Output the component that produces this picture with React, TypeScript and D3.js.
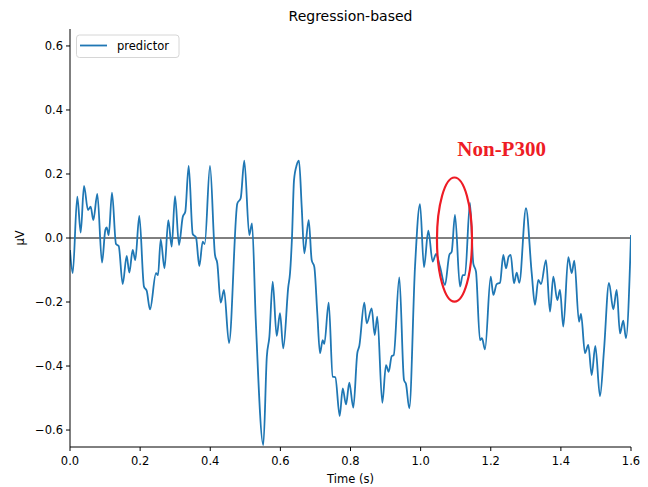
import React from "react";
import * as d3 from "d3";

// Regression-based ERP estimate for the "predictor" term (seconds, microvolts)
const times: number[] = [
  0.0, 0.0077, 0.0208, 0.0305, 0.0399, 0.0513, 0.059, 0.0665, 0.0779, 0.0913,
  0.1007, 0.1047, 0.1104, 0.1198, 0.1312, 0.1389, 0.1503, 0.1617, 0.1691, 0.1788,
  0.1862, 0.1976, 0.211, 0.2188, 0.2282, 0.2453, 0.251, 0.2587, 0.2695, 0.2804,
  0.29, 0.2995, 0.3109, 0.3214, 0.3288, 0.3385, 0.35, 0.3594, 0.3688, 0.3785,
  0.3842, 0.3993, 0.4135, 0.4201, 0.4298, 0.4392, 0.4535, 0.4772, 0.4868, 0.4971,
  0.5114, 0.5191, 0.5298, 0.5513, 0.5613, 0.5687, 0.5781, 0.5895, 0.5989, 0.6083,
  0.6226, 0.6275, 0.6332, 0.6389, 0.6466, 0.6531, 0.6608, 0.6682, 0.6808, 0.6893,
  0.6968, 0.7053, 0.713, 0.7207, 0.7253, 0.7378, 0.7492, 0.7567, 0.7692, 0.7778,
  0.7872, 0.7966, 0.808, 0.8194, 0.8251, 0.8394, 0.8462, 0.8605, 0.869, 0.8764,
  0.8907, 0.9012, 0.909, 0.9175, 0.9232, 0.9392, 0.9526, 0.9583, 0.9677, 0.984,
  0.9982, 1.0096, 1.0219, 1.0344, 1.0439, 1.0553, 1.0695, 1.0818, 1.0886, 1.098,
  1.1123, 1.12, 1.1266, 1.1408, 1.1502, 1.1579, 1.1693, 1.175, 1.1836, 1.1999,
  1.2073, 1.217, 1.2264, 1.2358, 1.2435, 1.2512, 1.2569, 1.2663, 1.274, 1.2814,
  1.3005, 1.3168, 1.3262, 1.3356, 1.3433, 1.3576, 1.369, 1.3784, 1.3898, 1.3975,
  1.4069, 1.4212, 1.4309, 1.4383, 1.4517, 1.4574, 1.4688, 1.4782, 1.4879, 1.4982,
  1.5116, 1.523, 1.5372, 1.5495, 1.5592, 1.5686, 1.578, 1.5857, 1.6,
];

const predictor: number[] = [
  -0.0375, -0.11, 0.129, 0.017, 0.1625, 0.0875, 0.098, 0.056, 0.1375, -0.077,
  0.025, 0.033, 0.009, 0.1416, -0.019, -0.025, -0.144, -0.056, -0.108, -0.0375,
  -0.069, 0.069, -0.152, -0.165, -0.223, -0.11, -0.116, -0.004, -0.095, 0.056,
  -0.027, 0.131, -0.022, 0.065, 0.082, 0.225, 0.0125, 0.002, -0.0875, -0.0116,
  -0.019, 0.225, -0.053, -0.079, -0.202, -0.1625, -0.328, 0.108, 0.124, 0.2416,
  0.009, 0.046, -0.256, -0.647, -0.371, -0.308, -0.1366, -0.306, -0.235, -0.345,
  -0.152, -0.11, 0.004, 0.181, 0.228, 0.2416, 0.098, -0.048, 0.056, -0.069,
  -0.09, -0.235, -0.36, -0.319, -0.331, -0.202, -0.433, -0.435, -0.556, -0.47,
  -0.52, -0.452, -0.53, -0.36, -0.3375, -0.202, -0.2666, -0.22, -0.303, -0.246,
  -0.515, -0.397, -0.418, -0.369, -0.366, -0.123, -0.444, -0.456, -0.532, -0.09,
  0.106, -0.0916, 0.023, -0.074, -0.05, -0.09, -0.147, -0.053, -0.043, 0.072,
  -0.152, -0.116, -0.116, 0.11, -0.079, -0.105, -0.319, -0.313, -0.348, -0.121,
  -0.178, -0.144, -0.14, -0.053, -0.095, -0.058, -0.053, -0.1416, -0.108, -0.14,
  0.093, -0.11, -0.209, -0.131, -0.144, -0.069, -0.23, -0.121, -0.194, -0.1625,
  -0.277, -0.06, -0.11, -0.071, -0.2616, -0.2375, -0.36, -0.334, -0.428, -0.3375,
  -0.494, -0.35, -0.14, -0.223, -0.1625, -0.298, -0.258, -0.313, 0.009,
];

const xTicks: number[] = [0, 0.2, 0.4, 0.6, 0.8, 1.0, 1.2, 1.4, 1.6];
const yTicks: number[] = [-0.6, -0.4, -0.2, 0.0, 0.2, 0.4, 0.6];

// Highlighted component: ellipse centre / radii in data units, and its label
const markCenter: [number, number] = [1.0966, -0.005];
const markRadii: [number, number] = [0.05, 0.194];
const markLabel = "Non-P300";
const markLabelPos: [number, number] = [1.231, 0.255];

const W = 648;
const H = 487;
const left = 70;
const right = 631;
const top = 29;
const bottom = 447;

const FONT = "'DejaVu Sans', sans-serif";
const BLUE = "#1f77b4";

export default function App() {
  const x = d3.scaleLinear().domain([0, 1.6]).range([left, right]);
  const y = d3.scaleLinear().domain([-0.653, 0.653]).range([bottom, top]);

  const pts: [number, number][] = times.map((t, i) => [t, predictor[i]]);
  const line = d3
    .line<[number, number]>()
    .x((d) => x(d[0]))
    .y((d) => y(d[1]))
    .curve(d3.curveMonotoneX);

  const fmt = (v: number) => d3.format(".1f")(v).replace("-", "\u2212");

  const ex = x(markCenter[0]);
  const ey = y(markCenter[1]);
  const erx = x(markCenter[0] + markRadii[0]) - ex;
  const ery = ey - y(markCenter[1] + markRadii[1]);

  return (
    <svg
      width={W}
      height={H}
      style={{ position: "absolute", left: 0, top: 0, background: "#fff" }}
      fontFamily={FONT}
    >
      <rect x={0} y={0} width={W} height={H} fill="#fff" />
      <defs>
        <clipPath id="plot-area">
          <rect x={left} y={top} width={right - left} height={bottom - top} />
        </clipPath>
      </defs>

      {/* zero reference line */}
      <line x1={left} x2={right} y1={y(0)} y2={y(0)} stroke="#000" strokeWidth={1} />

      <path
        d={line(pts) ?? ""}
        fill="none"
        stroke={BLUE}
        strokeWidth={1.8}
        strokeLinejoin="round"
        clipPath="url(#plot-area)"
      />

      {/* annotation */}
      <ellipse cx={ex} cy={ey} rx={erx} ry={ery} fill="none" stroke="#ee1c25" strokeWidth={2.2} />
      <text
        x={x(markLabelPos[0])}
        y={y(markLabelPos[1])}
        textAnchor="middle"
        fontFamily="'Liberation Serif', 'Times New Roman', serif"
        fontWeight="bold"
        fontSize={21}
        fill="#ee1c25"
      >
        {markLabel}
      </text>

      {/* spines */}
      <line x1={left} x2={left} y1={top} y2={bottom} stroke="#000" strokeWidth={1} />
      <line x1={left} x2={right} y1={bottom} y2={bottom} stroke="#000" strokeWidth={1} />

      {/* x axis */}
      {xTicks.map((t) => (
        <g key={`x${t}`}>
          <line x1={x(t)} x2={x(t)} y1={bottom} y2={bottom + 4} stroke="#000" strokeWidth={1} />
          <text x={x(t)} y={bottom + 18} textAnchor="middle" fontSize={11.5} fill="#000">
            {fmt(t)}
          </text>
        </g>
      ))}
      <text x={(left + right) / 2} y={483} textAnchor="middle" fontSize={11.5} fill="#000">
        Time (s)
      </text>

      {/* y axis */}
      {yTicks.map((v) => (
        <g key={`y${v}`}>
          <line x1={left - 4} x2={left} y1={y(v)} y2={y(v)} stroke="#000" strokeWidth={1} />
          <text x={left - 7} y={y(v) + 4} textAnchor="end" fontSize={11.5} fill="#000">
            {fmt(v)}
          </text>
        </g>
      ))}
      <text
        transform={`translate(24, ${(top + bottom) / 2}) rotate(-90)`}
        textAnchor="middle"
        fontSize={11.5}
        fill="#000"
      >
        µV
      </text>

      {/* title */}
      <text x={(left + right) / 2} y={21} textAnchor="middle" fontSize={14} fill="#000">
        Regression-based
      </text>

      {/* legend */}
      <g>
        <rect
          x={76.5}
          y={35}
          width={102.5}
          height={22.5}
          rx={3}
          fill="#fff"
          fillOpacity={0.8}
          stroke="#d6d6d6"
          strokeWidth={1}
        />
        <line x1={80} x2={107} y1={45.5} y2={45.5} stroke={BLUE} strokeWidth={1.8} />
        <text x={117} y={50} fontSize={11.5} fill="#000">
          predictor
        </text>
      </g>
    </svg>
  );
}
